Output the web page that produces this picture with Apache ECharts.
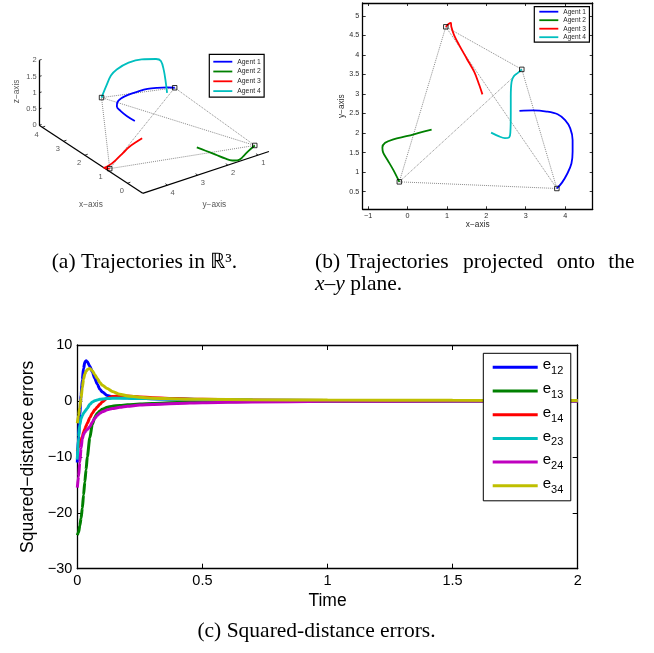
<!DOCTYPE html>
<html>
<head>
<meta charset="utf-8">
<title>Formation trajectories and errors</title>
<script src="https://cdn.jsdelivr.net/npm/echarts@6/dist/echarts.min.js"></script>
<style>
    html, body { margin: 0; padding: 0; background: #fff; }
    #main { width: 654px; height: 653px; }
</style>
</head>
<body>
<div id="main"></div>
<script>
// agent trajectories, [x, y, z] (agents 1-3 stay in the z = 0 plane)
var agent1 = [[2.84,2.57,0],[3.19,2.58,0],[3.53,2.55,0],[3.81,2.48,0],[4.0,2.33,0],[4.13,2.12,0],
              [4.19,1.82,0],[4.19,1.52,0],[4.16,1.22,0],[4.06,0.97,0],[3.92,0.73,0],[3.79,0.58,0]];
var agent2 = [[0.61,2.09,0],[0.31,2.01,0],[-0.03,1.92,0],[-0.36,1.84,0],[-0.57,1.75,0],[-0.64,1.63,0],
              [-0.62,1.5,0],[-0.51,1.31,0],[-0.36,1.05,0],[-0.21,0.75,0]];
var agent3 = [[1.9,2.99,0],[1.82,3.23,0],[1.69,3.57,0],[1.5,3.91,0],[1.31,4.25,0],[1.18,4.51,0],
              [1.11,4.72,0],[1.1,4.82,0],[1.04,4.79,0],[0.97,4.72,0]];
var agent4 = [[2.12,2.01,1.0],[2.31,1.92,1.22],[2.47,1.87,1.5],[2.58,1.89,1.75],[2.61,2.03,1.84],
              [2.62,2.5,1.97],[2.62,2.93,2.0],[2.64,3.31,1.9],[2.7,3.46,1.73],[2.8,3.54,1.4],[2.9,3.63,1.02]];
var agents = [agent1, agent2, agent3, agent4];
var agentNames = ['Agent 1', 'Agent 2', 'Agent 3', 'Agent 4'];
var agentColors = ['#0000ff', '#008000', '#ff0000', '#00bfbf'];

// 3d box of panel (a)
var xLim3d = [-0.72, 4.14];
var yLim3d = [0.64, 4.82];
var zLim3d = [0, 2];
var xTicks3d = [0, 1, 2, 3, 4];
var yTicks3d = [1, 2, 3, 4];
var zTicks3d = [0, 0.5, 1, 1.5, 2];

// panel (b) ticks
var xTicks2d = [-1, 0, 1, 2, 3, 4];
var yTicks2d = [0.5, 1, 1.5, 2, 2.5, 3, 3.5, 4, 4.5, 5];

// panel (c) squared-distance errors
var time = [0, 0.005, 0.01, 0.015, 0.02, 0.025, 0.03, 0.035, 0.04, 0.05, 0.06, 0.07, 0.08, 0.09, 0.1,
            0.12, 0.14, 0.17, 0.2, 0.25, 0.3, 0.4, 0.5, 0.7, 1.0, 1.5, 2.0];
var e12 = [-11, -6.2, -2.3, 1.0, 3.8, 5.8, 6.9, 7.2, 7.0, 6.2, 5.2, 4.0, 3.0, 2.1, 1.6,
           0.95, 0.75, 0.62, 0.55, 0.45, 0.4, 0.3, 0.22, 0.12, 0.06, 0.02, 0.01];
var e13 = [-24, -23.5, -22.3, -21, -19.2, -16.8, -14.5, -12.3, -10.0, -6.6, -4.2, -2.9, -2.2, -1.8, -1.5,
           -1.15, -0.95, -0.8, -0.7, -0.55, -0.45, -0.3, -0.2, -0.12, -0.06, -0.02, -0.01];
var e14 = [-9, -8.3, -7.5, -6.9, -6.4, -5.6, -5.0, -4.5, -4.0, -3.0, -2.2, -1.6, -1.1, -0.6, -0.15,
           0.5, 0.8, 0.92, 0.88, 0.72, 0.58, 0.42, 0.3, 0.15, 0.07, 0.02, 0.01];
var e23 = [-10.5, -6.5, -4.3, -3.2, -2.6, -2.2, -1.9, -1.6, -1.3, -0.6, -0.2, 0.05, 0.18, 0.28, 0.34,
           0.42, 0.46, 0.48, 0.47, 0.44, 0.4, 0.32, 0.25, 0.15, 0.07, 0.02, 0.01];
var e24 = [-15.5, -13.5, -11, -8.5, -6.8, -6.0, -5.6, -5.3, -5.1, -4.6, -3.8, -3.1, -2.6, -2.2, -1.95,
           -1.6, -1.35, -1.15, -0.95, -0.75, -0.62, -0.45, -0.33, -0.18, -0.08, -0.03, -0.02];
var e34 = [-4, -2.6, -1.2, 0.5, 2.4, 3.9, 4.8, 5.3, 5.6, 5.8, 5.4, 4.7, 4.0, 3.3, 2.8,
           2.2, 1.7, 1.2, 0.9, 0.65, 0.5, 0.36, 0.28, 0.2, 0.15, 0.1, 0.08];
var errors = [e12, e13, e14, e23, e24, e34];
var errNames = ['e12', 'e13', 'e14', 'e23', 'e24', 'e34'];
var errColors = ['#0000ff', '#008000', '#ff0000', '#00bfbf', '#bf00bf', '#bfbf00'];

var sans = 'Liberation Sans';
var serif = 'Liberation Serif';
var txtGrey = '#2a2a2a';

// matlab-like view of panel (a): screen px per unit of x, y, z
var view3d = { origin: [142.7, 193.3], ex: [-21.3, -14], ey: [-30.2, 10], ez: [0, -32.5] };
function proj(p) {
    var dx = p[0] - xLim3d[0], dy = p[1] - yLim3d[1], dz = p[2] - zLim3d[0];
    return [view3d.origin[0] + dx * view3d.ex[0] + dy * view3d.ey[0] + dz * view3d.ez[0],
            view3d.origin[1] + dx * view3d.ex[1] + dy * view3d.ey[1] + dz * view3d.ez[1]];
}
function add(a, b) { return [a[0] + b[0], a[1] + b[1]]; }

var finals = agents.map(function (a) { return a[a.length - 1]; });
var edgePairs = [];
for (var i = 0; i < finals.length; i++)
    for (var j = i + 1; j < finals.length; j++) edgePairs.push([finals[i], finals[j]]);

var xmin = xLim3d[0], xmax = xLim3d[1], ymin = yLim3d[0], ymax = yLim3d[1];
var boxLines = [
    [[xmax, ymax, 0], [xmin, ymax, 0]],
    [[xmin, ymax, 0], [xmin, ymin, 0]],
    [[xmax, ymax, 0], [xmax, ymax, zLim3d[1]]]
];
var tickLines = [];
xTicks3d.forEach(function (t) { var p = proj([t, ymax, 0]); tickLines.push([p, add(p, [3, -1])]); });
yTicks3d.forEach(function (t) { var p = proj([xmin, t, 0]); tickLines.push([p, add(p, [-2.1, -1.4])]); });
zTicks3d.forEach(function (t) { var p = proj([xmax, ymax, t]); tickLines.push([p, add(p, [2.4, -0.8])]); });

function labelData(ticks, toPoint, off) {
    return ticks.map(function (t) { return { name: String(t), value: add(proj(toPoint(t)), off) }; });
}
function textSeries(data, extra) {
    var lbl = { show: true, position: 'inside', formatter: '{b}', color: txtGrey, fontFamily: sans, fontSize: 7.5 };
    for (var k in extra) lbl[k] = extra[k];
    return { type: 'scatter', xAxisIndex: 0, yAxisIndex: 0, symbolSize: 0, silent: true, z: 5, data: data, label: lbl };
}

var series = [];
// ---- panel (a)
series.push({ type: 'lines', coordinateSystem: 'cartesian2d', xAxisIndex: 0, yAxisIndex: 0, silent: true,
    lineStyle: { color: '#000', width: 1.3, opacity: 1 },
    data: boxLines.map(function (l) { return { coords: [proj(l[0]), proj(l[1])] }; }) });
series.push({ type: 'lines', coordinateSystem: 'cartesian2d', xAxisIndex: 0, yAxisIndex: 0, silent: true,
    lineStyle: { color: '#000', width: 0.8, opacity: 1 },
    data: tickLines.map(function (l) { return { coords: l }; }) });
series.push({ type: 'lines', coordinateSystem: 'cartesian2d', xAxisIndex: 0, yAxisIndex: 0, silent: true,
    lineStyle: { color: '#8c8c8c', width: 1, type: 'dotted', opacity: 1 },
    data: edgePairs.map(function (e) { return { coords: [proj(e[0]), proj(e[1])] }; }) });
agents.forEach(function (a, k) {
    series.push({ type: 'line', name: agentNames[k], xAxisIndex: 0, yAxisIndex: 0, smooth: 0.35,
        symbol: 'none', color: agentColors[k], lineStyle: { color: agentColors[k], width: 1.8 },
        data: a.map(proj), z: 3 });
});
series.push({ type: 'scatter', xAxisIndex: 0, yAxisIndex: 0, symbol: 'rect', symbolSize: 4.5, silent: true, z: 4,
    itemStyle: { color: 'rgba(0,0,0,0)', borderColor: '#000', borderWidth: 1 }, data: finals.map(proj) });
series.push(textSeries(labelData(xTicks3d, function (t) { return [t, ymax, 0]; }, [-5.6, 7.6])));
series.push(textSeries(labelData(yTicks3d, function (t) { return [xmin, t, 0]; }, [5.2, 7.6])));
series.push(textSeries(labelData(zTicks3d, function (t) { return [xmax, ymax, t]; }, [-2.5, 0]),
    { position: 'left', distance: 0 }));
series.push(textSeries([
    { name: 'x\u2212axis', value: add(proj([(xmin + xmax) / 2, ymax, 0]), [0, 45.7]) },
    { name: 'y\u2212axis', value: add(proj([xmin, (ymin + ymax) / 2, 0]), [8.5, 32]) }
], { fontSize: 8.3 }));
series.push(textSeries([
    { name: 'z\u2212axis', value: add(proj([xmax, ymax, (zLim3d[0] + zLim3d[1]) / 2]), [-22.5, -1.4]) }
], { fontSize: 8.3, rotate: 90 }));

// ---- panel (b)
series.push({ type: 'lines', coordinateSystem: 'cartesian2d', xAxisIndex: 1, yAxisIndex: 1, silent: true,
    lineStyle: { color: '#8c8c8c', width: 1, type: 'dotted', opacity: 1 },
    data: edgePairs.map(function (e) { return { coords: [[e[0][0], e[0][1]], [e[1][0], e[1][1]]] }; }) });
agents.forEach(function (a, k) {
    series.push({ type: 'line', name: agentNames[k], xAxisIndex: 1, yAxisIndex: 1, smooth: 0.35,
        symbol: 'none', color: agentColors[k], lineStyle: { color: agentColors[k], width: 1.8 },
        data: a.map(function (p) { return [p[0], p[1]]; }), z: 3 });
});
series.push({ type: 'scatter', xAxisIndex: 1, yAxisIndex: 1, symbol: 'rect', symbolSize: 4.5, silent: true, z: 4,
    itemStyle: { color: 'rgba(0,0,0,0)', borderColor: '#000', borderWidth: 1 },
    data: finals.map(function (p) { return [p[0], p[1]]; }) });

// ---- panel (c)
errors.forEach(function (e, k) {
    series.push({ type: 'line', name: errNames[k], xAxisIndex: 3, yAxisIndex: 3, smooth: 0.25,
        smoothMonotone: 'x', symbol: 'none', color: errColors[k],
        lineStyle: { color: errColors[k], width: 3 },
        data: time.map(function (t, i) { return [t, e[i]]; }) });
});

function minus(v) { return String(v).replace('-', '\u2212'); }
function boxAxis(grid, pos, min, max, ticks, opts) {
    var ax = { gridIndex: grid, type: 'value', position: pos, min: min, max: max,
        axisLine: { show: true, onZero: false, lineStyle: { color: '#000', width: 1.3 } },
        axisTick: { show: true, inside: true, length: 3, lineStyle: { color: '#000', width: 0.8 } },
        axisLabel: { show: false }, splitLine: { show: false } };
    if (ticks) {
        ax.axisTick.customValues = ticks;
        ax.axisLabel.customValues = ticks;
    }
    for (var k in opts) ax[k] = opts[k];
    return ax;
}
var smallLabel = function (margin) {
    return { show: true, margin: margin, color: txtGrey, fontFamily: sans, fontSize: 7.2, formatter: minus };
};
var cLabel = { show: true, margin: 5, color: '#000', fontFamily: sans, fontSize: 14.5, formatter: minus };
var cTick = { show: true, inside: true, length: 5, lineStyle: { color: '#000', width: 1 } };

var option = {
    animation: false,
    backgroundColor: '#fff',
    grid: [
        { left: 0, top: 0, width: 327, height: 240 },
        { left: 362.7, top: 3, width: 230, height: 206.3 },
        { left: 77.3, top: 345, width: 500.4, height: 223.7 }
    ],
    xAxis: [
        { gridIndex: 0, type: 'value', min: 0, max: 327, show: false },
        boxAxis(1, 'bottom', -1.14, 4.7, xTicks2d, { axisLabel: Object.assign(smallLabel(3), { customValues: xTicks2d }),
            name: 'x\u2212axis', nameLocation: 'middle', nameGap: 11,
            nameTextStyle: { color: txtGrey, fontFamily: sans, fontSize: 8.3 } }),
        boxAxis(1, 'top', -1.14, 4.7, xTicks2d),
        boxAxis(2, 'bottom', 0, 2, null, { interval: 0.5, axisTick: cTick, axisLabel: cLabel,
            name: 'Time', nameLocation: 'middle', nameGap: 23,
            nameTextStyle: { color: '#000', fontFamily: sans, fontSize: 17.5 } }),
        boxAxis(2, 'top', 0, 2, null, { interval: 0.5, axisTick: cTick })
    ],
    yAxis: [
        { gridIndex: 0, type: 'value', min: 0, max: 240, inverse: true, show: false },
        boxAxis(1, 'left', 0.047, 5.33, yTicks2d, { axisLabel: Object.assign(smallLabel(3.4), { customValues: yTicks2d }),
            name: 'y\u2212axis', nameLocation: 'middle', nameGap: 16,
            nameTextStyle: { color: txtGrey, fontFamily: sans, fontSize: 8.3 } }),
        boxAxis(1, 'right', 0.047, 5.33, yTicks2d),
        boxAxis(2, 'left', -30, 10, null, { interval: 10, axisTick: cTick, axisLabel: cLabel,
            name: 'Squared\u2212distance errors', nameLocation: 'middle', nameGap: 39,
            nameTextStyle: { color: '#000', fontFamily: sans, fontSize: 17.5 } }),
        boxAxis(2, 'right', -30, 10, null, { interval: 10, axisTick: cTick })
    ],
    legend: [
        { data: agentNames, orient: 'vertical', left: 209.3, top: 54.3, icon: 'rect', itemWidth: 19, itemHeight: 1.8,
          itemGap: 1.8, padding: [3.4, 3.4, 2, 4], borderColor: '#000', borderWidth: 1.2, selectedMode: false,
          textStyle: { fontFamily: sans, fontSize: 6.8, lineHeight: 8, color: txtGrey } },
        { data: agentNames, orient: 'vertical', left: 534.3, top: 6.7, icon: 'rect', itemWidth: 19, itemHeight: 1.8,
          itemGap: 1.5, padding: [1.5, 3.4, 1.5, 5], borderColor: '#000', borderWidth: 1.2, selectedMode: false,
          textStyle: { fontFamily: sans, fontSize: 6.6, lineHeight: 7, color: txtGrey } },
        { data: errNames, orient: 'vertical', left: 483.3, top: 353.3, icon: 'rect', itemWidth: 45, itemHeight: 3,
          itemGap: 4.7, padding: [4.5, 7.5, 5.5, 9.4], borderColor: '#000', borderWidth: 1, selectedMode: false,
          backgroundColor: '#fff',
          formatter: function (name) { return '{e|e}{s|' + name.slice(1) + '}'; },
          textStyle: { color: '#000', fontFamily: sans,
              rich: { e: { fontSize: 15, fontFamily: sans, color: '#000', padding: [0, 0, 4, 0] },
                      s: { fontSize: 11, fontFamily: sans, color: '#000', padding: [8, 0, 0, 0] } } } }
    ],
    graphic: [
        { type: 'text', x: 51.7, y: 262, silent: true,
          style: { text: '(a) Trajectories in \u211D\u00B3.', fontSize: 21.5, fontFamily: serif, fill: '#000',
                   verticalAlign: 'middle', textVerticalAlign: 'middle' } },
        { type: 'text', x: 315, y: 262, silent: true,
          style: { text: '(b)', fontSize: 21.5, fontFamily: serif, fill: '#000', verticalAlign: 'middle', textVerticalAlign: 'middle' } },
        { type: 'text', x: 346.7, y: 262, silent: true,
          style: { text: 'Trajectories', fontSize: 21.5, fontFamily: serif, fill: '#000', verticalAlign: 'middle', textVerticalAlign: 'middle' } },
        { type: 'text', x: 463, y: 262, silent: true,
          style: { text: 'projected', fontSize: 21.5, fontFamily: serif, fill: '#000', verticalAlign: 'middle', textVerticalAlign: 'middle' } },
        { type: 'text', x: 556.7, y: 262, silent: true,
          style: { text: 'onto', fontSize: 21.5, fontFamily: serif, fill: '#000', verticalAlign: 'middle', textVerticalAlign: 'middle' } },
        { type: 'text', x: 608.3, y: 262, silent: true,
          style: { text: 'the', fontSize: 21.5, fontFamily: serif, fill: '#000', verticalAlign: 'middle', textVerticalAlign: 'middle' } },
        { type: 'text', x: 315, y: 284, silent: true,
          style: { text: '{i|x\u2013y} plane.', fontSize: 21.5, fontFamily: serif, fill: '#000',
                   verticalAlign: 'middle', textVerticalAlign: 'middle',
                   rich: { i: { fontStyle: 'italic', fontSize: 21.5, fontFamily: serif, fill: '#000', color: '#000' } } } },
        { type: 'text', x: 316.5, y: 631, silent: true,
          style: { text: '(c) Squared-distance errors.', fontSize: 21.5, fontFamily: serif, fill: '#000',
                   align: 'center', textAlign: 'center', verticalAlign: 'middle', textVerticalAlign: 'middle' } }
    ],
    series: series
};

var myChart = echarts.init(document.getElementById('main'), null, { renderer: 'canvas' });
myChart.setOption(option);
</script>
</body>
</html>
